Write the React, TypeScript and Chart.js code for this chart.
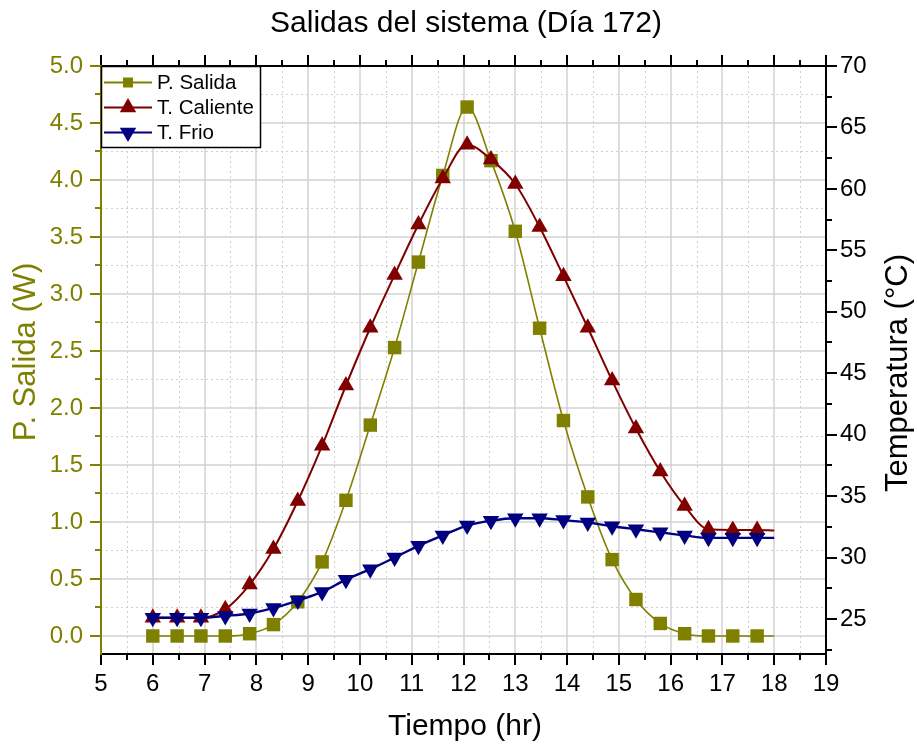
import React, { useEffect, useRef } from 'react';
import { Chart, registerables } from 'chart.js';

Chart.register(...registerables);

// ---- Data ----
const TIMES = [6.0, 6.47, 6.93, 7.4, 7.87, 8.33, 8.8, 9.27, 9.73, 10.2, 10.67, 11.13, 11.6, 12.07, 12.53, 13.0, 13.47, 13.93, 14.4, 14.87, 15.33, 15.8, 16.27, 16.73, 17.2, 17.67, 18.0];
const P_SALIDA = [0, 0, 0, 0, 0.02, 0.1, 0.3, 0.65, 1.19, 1.85, 2.53, 3.28, 4.04, 4.64, 4.17, 3.55, 2.7, 1.89, 1.22, 0.67, 0.32, 0.11, 0.02, 0, 0, 0, 0];
const T_CALIENTE = [25.1, 25.1, 25.1, 25.8, 27.8, 30.7, 34.6, 39.1, 44.0, 48.7, 53.0, 57.1, 60.85, 63.6, 62.4, 60.4, 56.9, 52.9, 48.7, 44.4, 40.5, 37.0, 34.2, 32.3, 32.25, 32.25, 32.2];
const T_FRIO = [25.1, 25.1, 25.1, 25.25, 25.45, 25.9, 26.5, 27.2, 28.2, 29.05, 30.0, 30.95, 31.8, 32.6, 33.0, 33.2, 33.2, 33.05, 32.85, 32.55, 32.3, 32.05, 31.8, 31.6, 31.6, 31.6, 31.6];

const SERIES_LABELS = ['P. Salida', 'T. Caliente', 'T. Frio'];
const TITLE = 'Salidas del sistema (Día 172)';
const X_TITLE = 'Tiempo (hr)';
const Y_LEFT_TITLE = 'P. Salida (W)';
const Y_RIGHT_TITLE = 'Temperatura (°C)';

const X_MIN = 5, X_MAX = 19;
const YL_MIN = -0.158, YL_MAX = 5.0;
const YR_MIN = 22.15, YR_MAX = 70;

const X_MAJOR = [5, 6, 7, 8, 9, 10, 11, 12, 13, 14, 15, 16, 17, 18, 19];
const X_MINOR = [5.5, 6.5, 7.5, 8.5, 9.5, 10.5, 11.5, 12.5, 13.5, 14.5, 15.5, 16.5, 17.5, 18.5];
const YL_MAJOR = [0, 0.5, 1.0, 1.5, 2.0, 2.5, 3.0, 3.5, 4.0, 4.5, 5.0];
const YL_MINOR = [0.25, 0.75, 1.25, 1.75, 2.25, 2.75, 3.25, 3.75, 4.25, 4.75];
const YR_MAJOR = [25, 30, 35, 40, 45, 50, 55, 60, 65, 70];
const YR_MINOR = [22.5, 27.5, 32.5, 37.5, 42.5, 47.5, 52.5, 57.5, 62.5, 67.5];

const OLIVE = '#808000';
const RED = '#800000';
const NAVY = '#000080';
const FONT = "Arial, 'Liberation Sans', Helvetica, sans-serif";

const LAST = TIMES.length - 1;
const radii = (r: number) => TIMES.map((_, i) => (i === LAST ? 0 : r));

function drawMarker(ctx: CanvasRenderingContext2D, kind: string, x: number, y: number, r: number, color: string) {
  ctx.fillStyle = color;
  ctx.beginPath();
  if (kind === 'rect') {
    ctx.rect(x - r, y - r, 2 * r, 2 * r);
  } else if (kind === 'up') {
    ctx.moveTo(x, y - r);
    ctx.lineTo(x + r * 0.866, y + r / 2);
    ctx.lineTo(x - r * 0.866, y + r / 2);
    ctx.closePath();
  } else {
    ctx.moveTo(x, y + r);
    ctx.lineTo(x + r * 0.866, y - r / 2);
    ctx.lineTo(x - r * 0.866, y - r / 2);
    ctx.closePath();
  }
  ctx.fill();
}

const framePlugin = {
  id: 'originFrame',
  beforeDraw(chart: any) {
    const { ctx, width, height } = chart;
    ctx.save();
    ctx.fillStyle = '#ffffff';
    ctx.fillRect(0, 0, width, height);
    ctx.restore();
  },
  beforeDatasetsDraw(chart: any) {
    const { ctx, chartArea: a, scales } = chart;
    const sx = scales.x, sy = scales.y;
    ctx.save();
    ctx.lineWidth = 1;
    ctx.strokeStyle = '#cfcfcf';
    ctx.setLineDash([2, 3]);
    ctx.beginPath();
    X_MINOR.forEach((v) => {
      const p = Math.round(sx.getPixelForValue(v)) + 0.5;
      ctx.moveTo(p, a.top); ctx.lineTo(p, a.bottom);
    });
    YL_MINOR.forEach((v) => {
      const p = Math.round(sy.getPixelForValue(v)) + 0.5;
      ctx.moveTo(a.left, p); ctx.lineTo(a.right, p);
    });
    ctx.stroke();
    ctx.setLineDash([]);
    ctx.strokeStyle = '#d2d2d2';
    ctx.lineWidth = 1.5;
    ctx.beginPath();
    X_MAJOR.slice(1, -1).forEach((v) => {
      const p = Math.round(sx.getPixelForValue(v));
      ctx.moveTo(p, a.top); ctx.lineTo(p, a.bottom);
    });
    YL_MAJOR.slice(0, -1).forEach((v) => {
      const p = Math.round(sy.getPixelForValue(v));
      ctx.moveTo(a.left, p); ctx.lineTo(a.right, p);
    });
    ctx.stroke();
    ctx.restore();
  },
  afterDraw(chart: any) {
    const { ctx, chartArea: a, scales } = chart;
    const sx = scales.x, sy = scales.y, sr = scales.y1;
    ctx.save();
    ctx.setLineDash([]);
    ctx.lineCap = 'butt';
    const MAJ = 11, MIN = 6;

    ctx.lineWidth = 2;
    ctx.strokeStyle = '#000';
    ctx.beginPath();
    ctx.moveTo(a.left - 1, a.bottom); ctx.lineTo(a.right + 1, a.bottom);
    ctx.moveTo(a.left - 1, a.top); ctx.lineTo(a.right + 1, a.top);
    ctx.moveTo(a.right, a.top); ctx.lineTo(a.right, a.bottom);
    ctx.stroke();

    ctx.beginPath();
    X_MAJOR.forEach((v) => {
      const p = Math.round(sx.getPixelForValue(v));
      ctx.moveTo(p, a.bottom); ctx.lineTo(p, a.bottom + MAJ);
      ctx.moveTo(p, a.top); ctx.lineTo(p, a.top - MAJ);
    });
    X_MINOR.forEach((v) => {
      const p = Math.round(sx.getPixelForValue(v));
      ctx.moveTo(p, a.bottom); ctx.lineTo(p, a.bottom + MIN);
      ctx.moveTo(p, a.top); ctx.lineTo(p, a.top - MIN);
    });
    YR_MAJOR.forEach((v) => {
      const p = Math.round(sr.getPixelForValue(v));
      ctx.moveTo(a.right, p); ctx.lineTo(a.right + MAJ, p);
    });
    YR_MINOR.forEach((v) => {
      const p = Math.round(sr.getPixelForValue(v));
      ctx.moveTo(a.right, p); ctx.lineTo(a.right + MIN, p);
    });
    ctx.stroke();

    ctx.strokeStyle = OLIVE;
    ctx.beginPath();
    ctx.moveTo(a.left, a.top - 1); ctx.lineTo(a.left, a.bottom + 1);
    YL_MAJOR.forEach((v) => {
      const p = Math.round(sy.getPixelForValue(v));
      ctx.moveTo(a.left, p); ctx.lineTo(a.left - MAJ, p);
    });
    YL_MINOR.forEach((v) => {
      const p = Math.round(sy.getPixelForValue(v));
      ctx.moveTo(a.left, p); ctx.lineTo(a.left - MIN, p);
    });
    ctx.stroke();

    ctx.fillStyle = '#000';
    ctx.textBaseline = 'alphabetic';
    ctx.textAlign = 'center';
    ctx.font = `30px ${FONT}`;
    ctx.fillText(TITLE, 466, 32);
    ctx.fillText(X_TITLE, 465, 735);

    ctx.save();
    ctx.translate(35, 352);
    ctx.rotate(-Math.PI / 2);
    ctx.fillStyle = OLIVE;
    ctx.font = `31px ${FONT}`;
    ctx.fillText(Y_LEFT_TITLE, 0, 0);
    ctx.restore();

    ctx.save();
    ctx.translate(907, 373);
    ctx.rotate(-Math.PI / 2);
    ctx.fillStyle = '#000';
    ctx.font = `31px ${FONT}`;
    ctx.fillText(Y_RIGHT_TITLE, 0, 0);
    ctx.restore();

    const bx = a.left, by = a.top, bw = 159, bh = 81;
    ctx.fillStyle = '#fff';
    ctx.fillRect(bx, by, bw, bh);
    ctx.strokeStyle = '#000';
    ctx.lineWidth = 1.5;
    ctx.strokeRect(bx + 0.5, by + 0.5, bw, bh);
    const rows = [
      { label: SERIES_LABELS[0], color: OLIVE, kind: 'rect', r: 5, lw: 2 },
      { label: SERIES_LABELS[1], color: RED, kind: 'up', r: 9.5, lw: 2 },
      { label: SERIES_LABELS[2], color: NAVY, kind: 'down', r: 9.5, lw: 2 },
    ];
    ctx.font = `20.5px ${FONT}`;
    ctx.textAlign = 'left';
    ctx.textBaseline = 'middle';
    rows.forEach((row, i) => {
      const yy = by + 16.5 + i * 25;
      ctx.strokeStyle = row.color;
      ctx.lineWidth = row.lw;
      ctx.beginPath();
      ctx.moveTo(bx + 3, yy); ctx.lineTo(bx + 51, yy);
      ctx.stroke();
      drawMarker(ctx, row.kind, bx + 27, yy, row.r, row.color);
      ctx.fillStyle = '#000';
      ctx.fillText(row.label, bx + 56, yy + 1);
    });
    ctx.restore();
  },
};

export default function App() {
  const ref = useRef<HTMLCanvasElement>(null);

  useEffect(() => {
    if (!ref.current) return;
    const mk = (vals: number[]) => TIMES.map((t, i) => ({ x: t, y: vals[i] }));
    const chart = new Chart(ref.current, {
      type: 'line',
      data: {
        datasets: [
          {
            label: SERIES_LABELS[0],
            data: mk(P_SALIDA),
            yAxisID: 'y',
            borderColor: OLIVE,
            backgroundColor: OLIVE,
            borderWidth: 1.6,
            pointStyle: 'rect',
            pointRadius: radii(9.5),
            pointBorderWidth: 0,
            pointBackgroundColor: OLIVE,
            cubicInterpolationMode: 'monotone',
            order: 3,
          },
          {
            label: SERIES_LABELS[1],
            data: mk(T_CALIENTE),
            yAxisID: 'y1',
            borderColor: RED,
            backgroundColor: RED,
            borderWidth: 2,
            pointStyle: 'triangle',
            pointRadius: radii(9.5),
            pointBorderWidth: 0,
            pointBackgroundColor: RED,
            cubicInterpolationMode: 'monotone',
            order: 2,
          },
          {
            label: SERIES_LABELS[2],
            data: mk(T_FRIO),
            yAxisID: 'y1',
            borderColor: NAVY,
            backgroundColor: NAVY,
            borderWidth: 2.4,
            pointStyle: 'triangle',
            pointRotation: 180,
            pointRadius: radii(9.5),
            pointBorderWidth: 0,
            pointBackgroundColor: NAVY,
            cubicInterpolationMode: 'monotone',
            order: 1,
          },
        ],
      },
      options: {
        animation: false,
        responsive: false,
        devicePixelRatio: 1,
        events: [],
        layout: { padding: { top: 66, left: 0, right: 0, bottom: 0 } },
        plugins: {
          legend: { display: false },
          title: { display: false },
          tooltip: { enabled: false },
        },
        scales: {
          x: {
            type: 'linear',
            position: 'bottom',
            min: X_MIN,
            max: X_MAX,
            grid: { display: false, drawTicks: false, drawOnChartArea: false },
            border: { display: false },
            ticks: {
              stepSize: 1,
              autoSkip: false,
              maxRotation: 0,
              includeBounds: false,
              padding: 16,
              color: '#000',
              font: { family: FONT, size: 24 },
            },
            afterFit: (s: any) => { s.height = 93; },
          },
          y: {
            type: 'linear',
            position: 'left',
            min: YL_MIN,
            max: YL_MAX,
            grid: { display: false, drawTicks: false, drawOnChartArea: false },
            border: { display: false },
            ticks: {
              stepSize: 0.5,
              includeBounds: false,
              padding: 18,
              color: OLIVE,
              font: { family: FONT, size: 24 },
              callback: (v: any) => Number(v).toFixed(1),
            },
            afterFit: (s: any) => { s.width = 101; },
          },
          y1: {
            type: 'linear',
            position: 'right',
            min: YR_MIN,
            max: YR_MAX,
            grid: { display: false, drawTicks: false, drawOnChartArea: false },
            border: { display: false },
            ticks: {
              stepSize: 5,
              includeBounds: false,
              padding: 14,
              color: '#000',
              font: { family: FONT, size: 24 },
              callback: (v: any) => String(v),
            },
            afterFit: (s: any) => { s.width = 91; },
          },
        },
      },
      plugins: [framePlugin],
    } as any);
    return () => chart.destroy();
  }, []);

  return (
    <div style={{ position: 'absolute', left: 0, top: 0, width: 917, height: 747, background: '#fff' }}>
      <canvas ref={ref} width={917} height={747} style={{ display: 'block', width: 917, height: 747 }} />
    </div>
  );
}
